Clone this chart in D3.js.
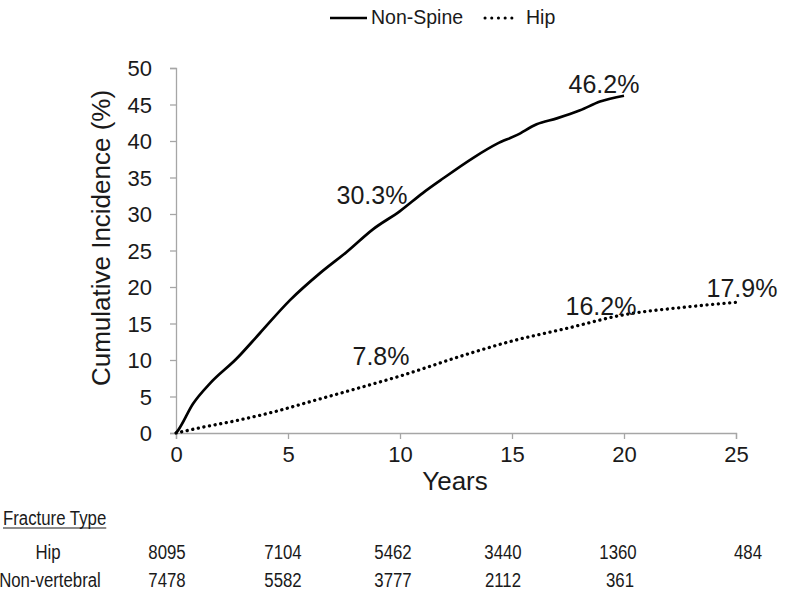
<!DOCTYPE html>
<html><head><meta charset="utf-8">
<script src="https://cdn.jsdelivr.net/npm/d3@7"></script>
<style>
body{margin:0;background:#fff;}
svg{display:block;font-family:"Liberation Sans",Arial,sans-serif;}
</style></head>
<body>
<svg id="c" width="785" height="599"></svg>
<script>
// ---- data ----
const nonSpineYears = [0,0.1,0.76,1.52,2.71,3.75,5.09,6.43,7.62,8.79,10,11.03,11.8,13.27,14.32,15.21,16.1,17.0,18.04,18.93,20];
const nonSpineValues = [0,0.4,4.0,6.8,10.2,13.7,18.2,21.9,24.8,27.9,30.4,32.9,34.6,37.7,39.6,40.8,42.3,43.1,44.2,45.4,46.2];
const hipYears = [0,1.2,2.7,4.5,6,8.2,10,13,15,17.4,20,22.6,25];
const hipValues = [0,0.8,1.7,3.0,4.3,6.2,7.8,10.8,12.6,14.3,16.2,17.2,17.9];
const xTicks = [0,5,10,15,20,25];
const yTicks = [0,5,10,15,20,25,30,35,40,45,50];
const annoYears = [20,10,10,20,25];
const annoValues = [46.2,30.3,7.8,16.2,17.9];
const annoTexts = ["46.2%","30.3%","7.8%","16.2%","17.9%"];
const seriesNames = ["Non-Spine","Hip"];
const tableTitle = "Fracture Type";
const tableRows = ["Hip","Non-vertebral"];
const tableHip = [8095,7104,5462,3440,1360,484];
const tableNonVert = [7478,5582,3777,2112,361];

const svg = d3.select("#c");
const x = d3.scaleLinear().domain([0,25]).range([176,736]);
const y = d3.scaleLinear().domain([0,50]).range([433,68]);
const axisColor = "#a6a6a6";
const textColor = "#1a1a1a";

// axes
const gx = svg.append("g").attr("transform","translate(0,433)")
  .call(d3.axisBottom(x).tickValues(xTicks).tickSize(6).tickPadding(7));
const gy = svg.append("g").attr("transform","translate(176,0)")
  .call(d3.axisLeft(y).tickValues(yTicks).tickSize(6).tickPadding(18));
[gx,gy].forEach(g=>{
  g.selectAll("path,line").attr("stroke",axisColor).attr("stroke-width",1.3);
  g.selectAll("text").attr("fill",textColor).style("font-family","'Liberation Sans',Arial,sans-serif");
});
gx.selectAll("text").attr("font-size",22);
gy.selectAll("text").attr("font-size",22).attr("dy","0.36em");

// titles
svg.append("text").attr("transform","translate(110,238) rotate(-90)")
  .attr("text-anchor","middle").attr("font-size",26).attr("fill",textColor)
  .text("Cumulative Incidence (%)");
svg.append("text").attr("x",455).attr("y",490).attr("text-anchor","middle")
  .attr("font-size",26).attr("fill",textColor).text("Years");

// lines
const line = d3.line().x(d=>x(d[0])).y(d=>y(d[1])).curve(d3.curveMonotoneX);
svg.append("path").datum(nonSpineYears.map((t,i)=>[t,nonSpineValues[i]]))
  .attr("d",line).attr("fill","none").attr("stroke","#000").attr("stroke-width",2.7)
  .attr("stroke-linejoin","round");
svg.append("path").datum(hipYears.map((t,i)=>[t,hipValues[i]]))
  .attr("d",line).attr("fill","none").attr("stroke","#000").attr("stroke-width",3.3)
  .attr("stroke-dasharray","0.1,5.6").attr("stroke-linecap","round");

// annotations
const annoOff = [[-20,-3],[-28,-8],[-19,-11],[-23,0],[6,-5]];
annoTexts.forEach((t,i)=>{
  svg.append("text").attr("x",x(annoYears[i])+annoOff[i][0]).attr("y",y(annoValues[i])+annoOff[i][1])
    .attr("text-anchor","middle").attr("font-size",25).attr("fill",textColor).text(t);
});

// legend
const lg = svg.append("g");
lg.append("line").attr("x1",330).attr("x2",367).attr("y1",18).attr("y2",18)
  .attr("stroke","#000").attr("stroke-width",2.7);
lg.append("text").attr("x",371).attr("y",24).attr("font-size",19.5).attr("fill",textColor).text(seriesNames[0]);
lg.append("line").attr("x1",485).attr("x2",518).attr("y1",18).attr("y2",18)
  .attr("stroke","#000").attr("stroke-width",3).attr("stroke-dasharray","0.1,6.6").attr("stroke-linecap","round");
lg.append("text").attr("x",526).attr("y",24).attr("font-size",19.5).attr("fill",textColor).text(seriesNames[1]);

// table (condensed text via horizontal scale)
const sx = 0.8;
const tb = svg.append("g").attr("transform",`scale(${sx},1)`).attr("fill",textColor)
  .style("font-family","'Liberation Sans',Arial,sans-serif");
const ft = tb.append("text").attr("x",3/sx).attr("y",525).attr("font-size",21).text(tableTitle);
const bb = ft.node().getBBox();
tb.append("line").attr("x1",bb.x).attr("x2",bb.x+bb.width).attr("y1",528).attr("y2",528)
  .attr("stroke",textColor).attr("stroke-width",1.2);
const colX = [167,283,393,503,618,748];
tb.append("text").attr("x",48/sx).attr("y",559).attr("font-size",21).attr("text-anchor","middle").text(tableRows[0]);
tb.append("text").attr("x",50/sx).attr("y",587).attr("font-size",21).attr("text-anchor","middle").text(tableRows[1]);
tableHip.forEach((v,i)=>tb.append("text").attr("x",colX[i]/sx).attr("y",559).attr("font-size",21).attr("text-anchor","middle").text(v));
tableNonVert.forEach((v,i)=>tb.append("text").attr("x",(colX[i]+(i==4?2:0))/sx).attr("y",587).attr("font-size",21).attr("text-anchor","middle").text(v));
</script>
</body></html>
